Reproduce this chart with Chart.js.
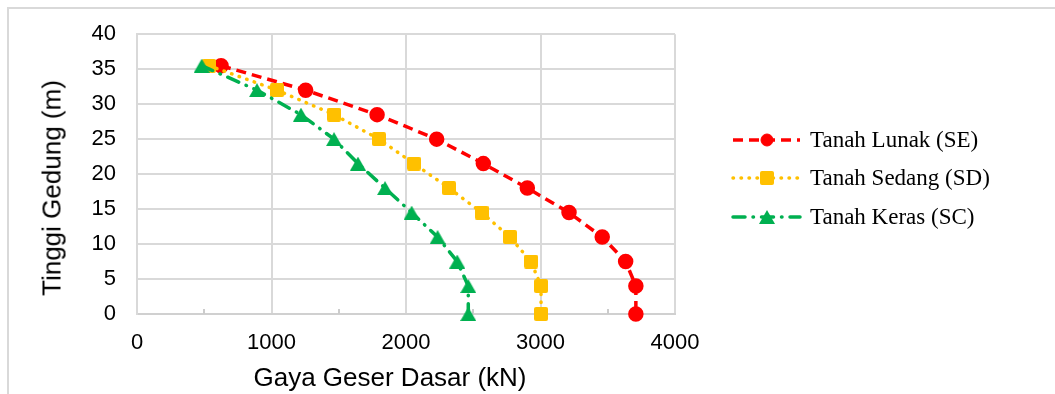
<!DOCTYPE html>
<html>
<head>
<meta charset="utf-8">
<script src="https://cdn.jsdelivr.net/npm/chart.js@4.4.1/dist/chart.umd.min.js"></script>
<style>
  html, body { margin: 0; padding: 0; background: #fff; }
  #wrap { position: relative; width: 1055px; height: 394px; overflow: hidden; }
  #frame { position: absolute; left: 7px; top: 7px; width: 1200px; height: 600px;
           border-left: 2px solid #d9d9d9; border-top: 2px solid #d9d9d9; box-sizing: border-box; }
  canvas#c { position: absolute; left: 0; top: 0; }
  .t { position: absolute; font-family: "Liberation Sans", Arial, sans-serif; color: #000; white-space: nowrap; }
  .lg { position: absolute; font-family: "Liberation Serif", "Times New Roman", serif; font-size: 23px; color: #000;
        white-space: nowrap; transform: translateY(-50%); left: 810px; }
</style>
</head>
<body>
<div id="wrap">
  <div id="frame"></div>
  <canvas id="c" width="1055" height="394"></canvas>
  <div class="t" id="ytitle" style="font-size:26px; left:52px; top:188px; transform: translate(-50%,-50%) rotate(-90deg);">Tinggi Gedung (m)</div>
  <div class="t" id="xtitle" style="font-size:26px; left:390px; top:377px; transform: translate(-50%,-50%);">Gaya Geser Dasar (kN)</div>
  <div class="lg" style="top:140px;">Tanah Lunak (SE)</div>
  <div class="lg" style="top:178px;">Tanah Sedang (SD)</div>
  <div class="lg" style="top:217px;">Tanah Keras (SC)</div>
</div>
<script>
const heights   = [35.5, 32, 28.5, 25, 21.5, 18, 14.5, 11, 7.5, 4, 0];
const shearSE   = [625, 1254, 1785, 2228, 2575, 2902, 3212, 3459, 3633, 3709, 3709];
const shearSD   = [535, 1041, 1465, 1799, 2059, 2320, 2563, 2773, 2929, 3004, 3004];
const shearSC   = [481, 892, 1219, 1465, 1643, 1844, 2042, 2235, 2381, 2463, 2463];
const seriesNames = ["Tanah Lunak (SE)", "Tanah Sedang (SD)", "Tanah Keras (SC)"];
const xTickValues = [0, 1000, 2000, 3000, 4000];
const yTickValues = [0, 5, 10, 15, 20, 25, 30, 35, 40];

const pts = (xs) => xs.map((x, i) => ({x: x, y: heights[i]}));

// bounding-box centred markers (like Excel)
function makeTriangle(color, w, h) {
  const cv = document.createElement('canvas');
  cv.width = w; cv.height = h;
  const c = cv.getContext('2d');
  c.fillStyle = color;
  c.beginPath();
  c.moveTo(w / 2, 0);
  c.lineTo(w, h);
  c.lineTo(0, h);
  c.closePath();
  c.fill();
  return cv;
}
function makeSquare(color, s, r) {
  const cv = document.createElement('canvas');
  cv.width = s; cv.height = s;
  const c = cv.getContext('2d');
  c.fillStyle = color;
  c.beginPath();
  c.roundRect(0, 0, s, s, r);
  c.fill();
  return cv;
}
const triGreen = makeTriangle('#00b050', 16, 14);
const sqYellow = makeSquare('#ffc000', 14, 2);

const legendRows = [140, 178, 217];

const legendPlugin = {
  id: 'sampleLegend',
  afterDraw(chart) {
    const ctx = chart.ctx;
    chart.data.datasets.forEach((ds, i) => {
      const y = legendRows[i];
      ctx.save();
      ctx.strokeStyle = ds.borderColor;
      ctx.lineWidth = ds.borderWidth;
      ctx.lineCap = ds.borderCapStyle || 'butt';
      ctx.setLineDash(ds.borderDash || []);
      ctx.beginPath();
      ctx.moveTo(733, y);
      ctx.lineTo(800, y);
      ctx.stroke();
      ctx.setLineDash([]);
      ctx.fillStyle = ds.pointBackgroundColor;
      ctx.strokeStyle = ds.pointBackgroundColor;
      ctx.lineWidth = 1;
      Chart.helpers.drawPoint(ctx, {pointStyle: ds.pointStyle, rotation: 0, borderWidth: 1, radius: ds.pointRadius}, 767, y);
      ctx.restore();
    });
  }
};

const minorTickPlugin = {
  id: 'minorTicks',
  beforeDatasetsDraw(chart) {
    const xs = chart.scales.x;
    const ctx = chart.ctx;
    const b = chart.chartArea.bottom;
    ctx.save();
    ctx.strokeStyle = '#cccccc';
    ctx.lineWidth = 2;
    [500, 1500, 2500, 3500].forEach(v => {
      const px = Math.round(xs.getPixelForValue(v));
      ctx.beginPath();
      ctx.moveTo(px, b - 5);
      ctx.lineTo(px, b);
      ctx.stroke();
    });
    ctx.restore();
  }
};

new Chart(document.getElementById('c'), {
  type: 'scatter',
  data: {
    datasets: [
      {
        label: seriesNames[0], data: pts(shearSE), showLine: true, clip: false,
        borderColor: '#ff0000', backgroundColor: '#ff0000', pointBackgroundColor: '#ff0000', pointBorderColor: '#ff0000',
        borderWidth: 3.5, borderDash: [10, 6], pointStyle: 'circle', pointRadius: 6, pointHoverRadius: 6, order: 2
      },
      {
        label: seriesNames[1], data: pts(shearSD), showLine: true, clip: false,
        borderColor: '#ffc000', backgroundColor: '#ffc000', pointBackgroundColor: '#ffc000', pointBorderColor: '#ffc000',
        borderWidth: 3.5, borderDash: [0.5, 7.5], borderCapStyle: 'round', pointStyle: sqYellow, pointRadius: 7, pointHoverRadius: 7, order: 1
      },
      {
        label: seriesNames[2], data: pts(shearSC), showLine: true, clip: false,
        borderColor: '#00b050', backgroundColor: '#00b050', pointBackgroundColor: '#00b050', pointBorderColor: '#00b050',
        borderWidth: 3.5, borderDash: [12, 8, 0.5, 8], borderCapStyle: 'round', pointStyle: triGreen, pointRadius: 7, pointHoverRadius: 7, order: 0
      }
    ]
  },
  options: {
    responsive: false,
    animation: false,
    events: [],
    layout: { padding: { left: 0, right: 380, top: 29, bottom: 0 } },
    plugins: { legend: { display: false }, tooltip: { enabled: false } },
    scales: {
      x: {
        type: 'linear', min: 0, max: 4000,
        afterFit(s) { s.height = 80; },
        afterBuildTicks(s) { s.ticks = xTickValues.map(v => ({value: v})); },
        ticks: { padding: 16, color: '#000', font: { family: '"Liberation Sans", Arial', size: 22 }, maxRotation: 0,
                 callback: (v) => String(v) },
        grid: { color: '#d9d9d9', lineWidth: 2, drawTicks: false },
        border: { color: '#d0d0d0', width: 2 },
        title: { display: false }
      },
      y: {
        type: 'linear', min: 0, max: 40,
        afterFit(s) { s.width = 137; },
        afterBuildTicks(s) { s.ticks = yTickValues.map(v => ({value: v})); },
        ticks: { padding: 21, color: '#000', font: { family: '"Liberation Sans", Arial', size: 22 },
                 callback: (v) => String(v) },
        grid: { color: '#d9d9d9', lineWidth: 2, drawTicks: false },
        border: { color: '#d9d9d9', width: 2 },
        title: { display: false }
      }
    }
  },
  plugins: [minorTickPlugin, legendPlugin]
});
</script>
</body>
</html>
